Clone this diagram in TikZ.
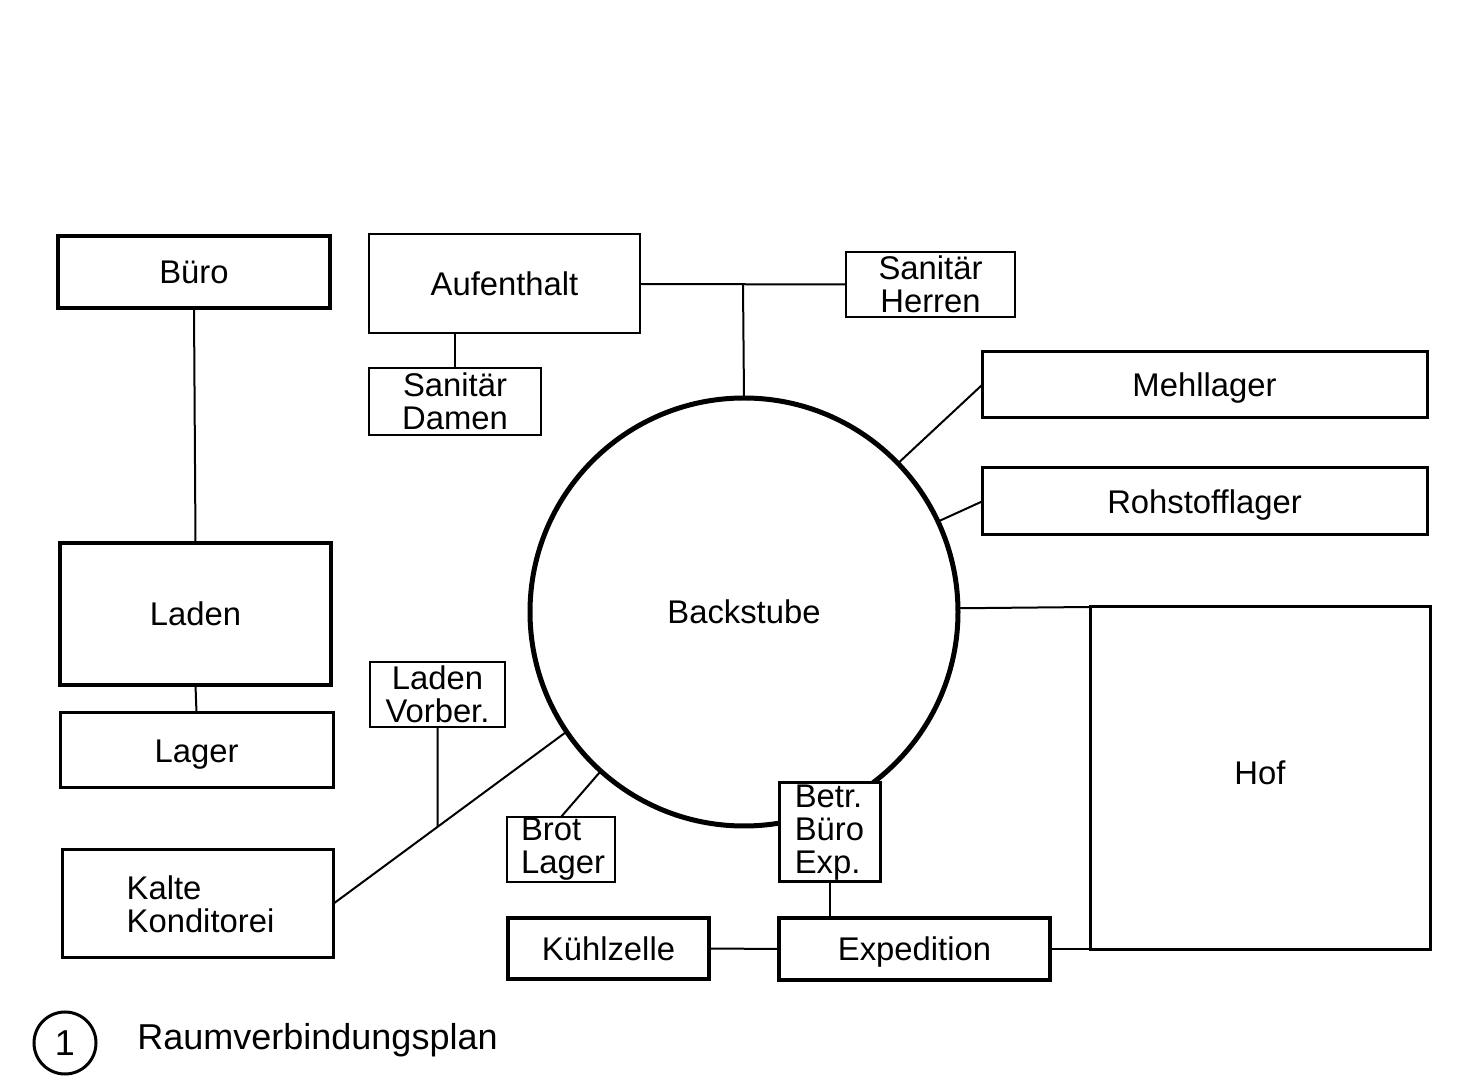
\documentclass[tikz,border=0pt]{standalone}
\usepackage{fontspec}
\setmainfont{Liberation Sans}
\newcommand{\lblfont}{\fontsize{16.4}{16.4}\selectfont}
\newcommand{\capfont}{\fontsize{18}{18}\selectfont}
\begin{document}
\begin{tikzpicture}[x=0.5pt,y=-0.5pt,
  room/.style={draw, rectangle, inner sep=0pt, outer sep=0pt, align=center, font=\lblfont, fill=white},
  one/.style={text height=11.8pt, text depth=0pt},
  thinb/.style={room, line width=1pt},
  medb/.style={room, line width=1.5pt},
  thkb/.style={room, line width=2.3pt},
  conn/.style={line width=1pt}]
\useasboundingbox[fill=white] (0,0) rectangle (1458,1090);

% central circle
\node[circle, draw, line width=2.5pt, minimum size=214pt, inner sep=0pt, outer sep=0pt, font=\lblfont, text height=11.8pt, text depth=0pt] (bs) at (744,612) {Backstube};

% rooms
\node[thkb, one, minimum width=136pt, minimum height=36pt] (buero) at (194,272) {Büro};
\node[thinb, one, minimum width=135.5pt, minimum height=49.5pt] (auf) at (504.5,284) {Aufenthalt};
\node[thinb, minimum width=84.5pt, minimum height=32.5pt] (sh) at (930.5,284.5) {Sanitär\\Herren};
\node[thinb, minimum width=86pt, minimum height=33.5pt] (sd) at (455,401.5) {Sanitär\\Damen};
\node[medb, one, minimum width=222.5pt, minimum height=33pt] (mehl) at (1204.5,385) {Mehllager};
\node[medb, one, minimum width=222.5pt, minimum height=33.5pt] (roh) at (1204.5,501.5) {Rohstofflager};
\node[thkb, one, minimum width=135.5pt, minimum height=71pt] (laden) at (195.5,614) {Laden};
\node[medb, one, minimum width=136.5pt, minimum height=37.5pt] (lager) at (196.5,750.5) {Lager};
\node[thinb, minimum width=67.5pt, minimum height=32.5pt] (lv) at (437.5,694.5) {Laden\\Vorber.};
\node[thinb, minimum width=54pt, minimum height=32.5pt, align=left] (brot) at (561,849.5) {\hspace*{2pt}Brot\\\hspace*{2pt}Lager};
\node[medb, minimum width=135.5pt, minimum height=54pt, align=left] (kk) at (197.5,904) {\hspace*{3pt}Kalte\\\hspace*{3pt}Konditorei};
\node[thkb, one, line width=2pt, minimum width=100.5pt, minimum height=30.5pt] (kuehl) at (608.5,948.5) {Kühlzelle};
\node[medb, one, line width=1.8pt, minimum width=135.5pt, minimum height=31pt] (exp) at (914.5,949) {Expedition};
\node[medb, minimum width=50.5pt, minimum height=49.5pt, align=left] (betr) at (829.5,832.5) {Betr.\\Büro\\Exp.};
\node[medb, one, minimum width=170pt, minimum height=171.5pt] (hof) at (1260,778.5) {\raisebox{3pt}{Hof}};

% connectors
\coordinate (j1) at (743,284);
\draw[conn] (buero.south) -- (laden.north);
\draw[conn] (laden.south) -- (lager.north);
\draw[conn] (sd.north) -- (sd.north |- auf.south);
\draw[conn] (auf.east) -- (sh.west);
\draw[conn] (j1) -- (bs.north);
\draw[conn] (bs.44.4) -- (mehl.west);
\draw[conn] (bs.25) -- (roh.west);
\draw[conn] (bs.1.3) -- (hof.north west);
\draw[conn] (exp.east) -- (exp.east -| hof.west);
\draw[conn] (kuehl.east) -- (exp.west);
\draw[conn] (betr.south) -- (betr.south |- exp.north);
\draw[conn] (brot.north) -- (bs.228);
\draw[conn] (kk.east) -- (bs.214.4);
\coordinate (j2) at (intersection of kk.east--bs.214.4 and lv.south--lv.north);
\draw[conn] (lv.south) -- (j2);

% caption
\node[circle, draw, line width=1.5pt, minimum size=31pt, inner sep=0pt, font=\capfont] (num) at (65,1043) {1};
\node[anchor=west, font=\capfont, inner sep=0pt] (cap) at (137,1040) {Raumverbindungsplan};
\end{tikzpicture}
\end{document}
